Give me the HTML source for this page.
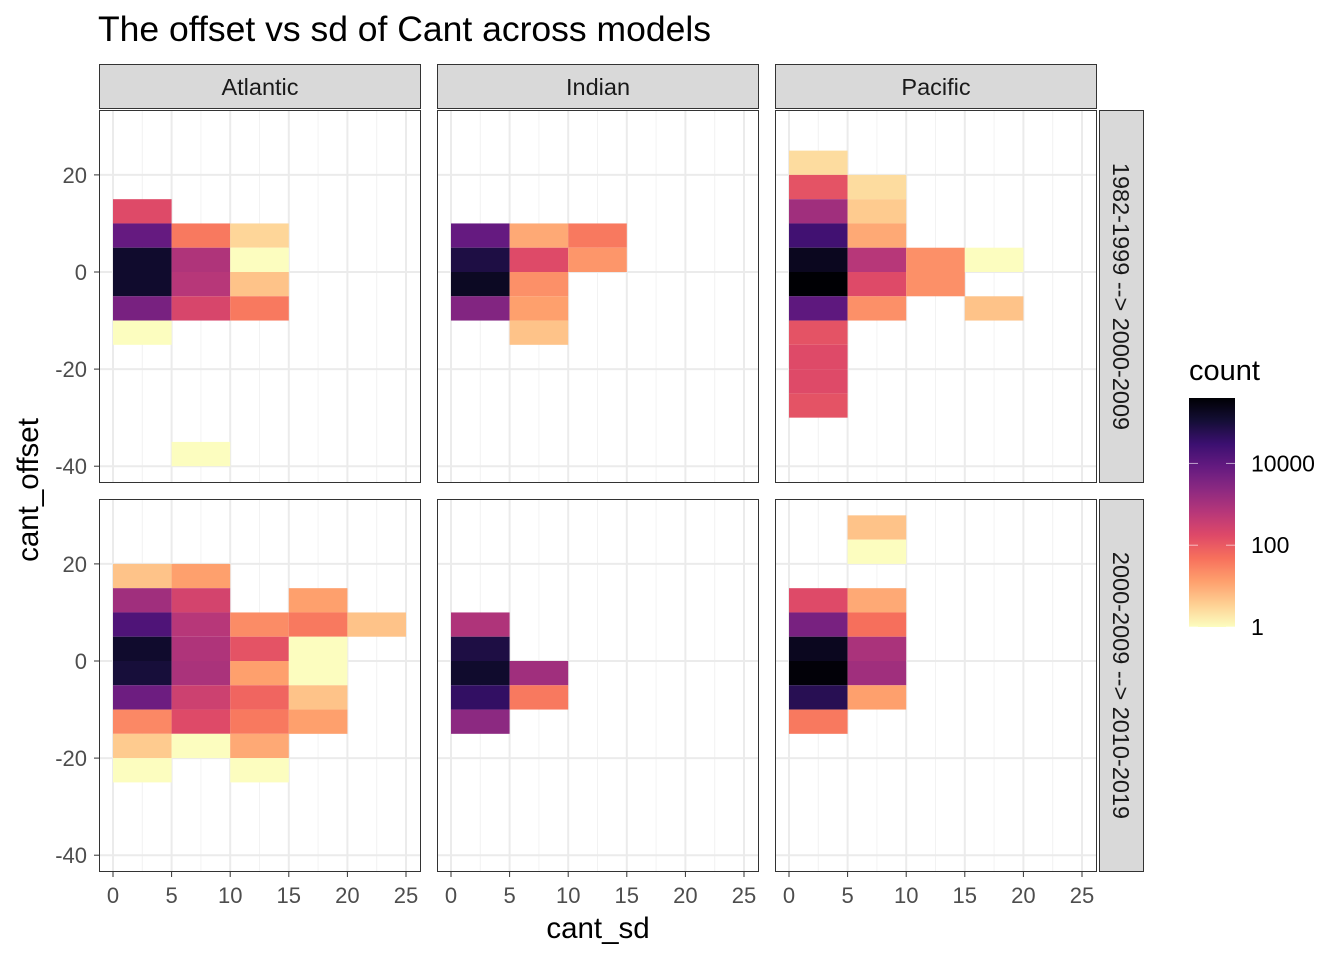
<!DOCTYPE html>
<html><head><meta charset="utf-8"><style>
body{margin:0;background:#fff}
svg text{font-family:"Liberation Sans",sans-serif}
</style></head><body>
<svg id="chart" width="1344" height="960" xmlns="http://www.w3.org/2000/svg">
<text x="98" y="41" font-size="35.5" fill="#000">The offset vs sd of Cant across models</text>
<text x="598" y="938" font-size="29.5" text-anchor="middle">cant_sd</text>
<text transform="translate(38,490) rotate(-90)" font-size="29.5" text-anchor="middle">cant_offset</text>
<g id="panels"></g>
<g id="legend">
<text x="1189" y="380" font-size="29">count</text>
</g>
</svg>
<script>
const columns = ["Atlantic","Indian","Pacific"];
const rows = ["1982-1999 --> 2000-2009","2000-2009 --> 2010-2019"];
const xTicks = [0,5,10,15,20,25];
const yTicks = [-40,-20,0,20];
const legendTicks = [1,100,10000];
// tiles: [x bin start, y bin start, count]
const atlantic1 = [[0,10,170],[0,5,8000],[0,0,140000],[0,-5,140000],[0,-10,4400],[0,-15,1],
 [5,5,37],[5,0,800],[5,-5,630],[5,-10,220],[5,-40,1],
 [10,5,3],[10,0,1],[10,-5,5],[10,-10,37]];
const indian1 = [[0,5,8000],[0,0,80000],[0,-5,178000],[0,-10,3200],
 [5,5,10],[5,0,170],[5,-5,20],[5,-10,13],[5,-15,5],[10,5,37],[10,0,17]];
const pacific1 = [[0,20,2.5],[0,15,126],[0,10,1260],[0,5,25000],[0,0,200000],[0,-5,400000],[0,-10,10000],
 [0,-15,126],[0,-20,170],[0,-25,170],[0,-30,126],
 [5,15,2.5],[5,10,4],[5,5,10],[5,0,630],[5,-5,170],[5,-10,20],
 [10,0,20],[10,-5,20],[15,0,1],[15,-10,5]];
const atlantic2 = [[0,15,5],[0,10,1260],[0,5,16000],[0,0,140000],[0,-5,100000],[0,-10,6300],[0,-15,25],[0,-20,4],[0,-25,1],
 [5,15,13],[5,10,250],[5,5,630],[5,0,800],[5,-5,930],[5,-10,316],[5,-15,170],[5,-20,1],
 [10,5,22],[10,0,126],[10,-5,13],[10,-10,70],[10,-15,37],[10,-20,10],[10,-25,1],
 [15,10,13],[15,5,37],[15,0,1],[15,-5,1],[15,-10,5],[15,-15,13],[20,5,5]];
const indian2 = [[0,5,800],[0,0,80000],[0,-5,140000],[0,-10,40000],[0,-15,2300],[5,-5,1260],[5,-10,37]];
const pacific2 = [[5,25,5],[5,20,1],[0,10,170],[0,5,4400],[0,0,200000],[0,-5,355000],[0,-10,57000],[0,-15,37],
 [5,10,10],[5,5,50],[5,0,930],[5,-5,1260],[5,-10,13]];
const panelData = [[atlantic1,indian1,pacific1],[atlantic2,indian2,pacific2]];
const LMAX = 5.6;

const NS="http://www.w3.org/2000/svg";
const stops=["#000004","#140E36","#3B0F70","#641A80","#8C2981","#B73779","#DE4968","#F7705C","#FE9F6D","#FECF92","#FCFDBF"];
function hex(c){return [1,3,5].map(i=>parseInt(c.substr(i,2),16));}
function magma(t){t=Math.max(0,Math.min(1,t));const p=t*10,i=Math.min(9,Math.floor(p)),f=p-i;
 const a=hex(stops[i]),b=hex(stops[i+1]);return "rgb("+a.map((v,k)=>Math.round(v+(b[k]-v)*f)).join(",")+")";}
function color(c){return magma(1-Math.log10(Math.max(1,c))/LMAX);}
function mk(tag,attrs,parent){const e=document.createElementNS(NS,tag);for(const k in attrs)e.setAttribute(k,attrs[k]);parent.appendChild(e);return e;}
const colX=[99,437,775], PW=322, rowY=[110,499], PH=373;
const xUnit=11.72, x0off=14, yUnit=4.855, y0off=162;
const G=document.getElementById("panels");
rows.forEach((rn,ri)=>{columns.forEach((cn,ci)=>{
 const L=colX[ci],T=rowY[ri];
 const sx=v=>L+x0off+v*xUnit, sy=v=>T+y0off-v*yUnit;
 const g=mk("g",{},G);
 
 
 mk("rect",{x:L,y:T,width:PW,height:PH,fill:"#fff"},g);
 for(let v=-2.5;v<=27.5;v+=5){const x=sx(v);if(x>L&&x<L+PW)mk("line",{x1:x,x2:x,y1:T,y2:T+PH,stroke:"#F2F2F2","stroke-width":1},g);}
 for(let v=-50;v<=40;v+=20){const y=sy(v+10);if(y>T&&y<T+PH)mk("line",{x1:L,x2:L+PW,y1:y,y2:y,stroke:"#F2F2F2","stroke-width":1},g);}
 xTicks.forEach(v=>mk("line",{x1:sx(v),x2:sx(v),y1:T,y2:T+PH,stroke:"#EBEBEB","stroke-width":2},g));
 yTicks.forEach(v=>mk("line",{x1:L,x2:L+PW,y1:sy(v),y2:sy(v),stroke:"#EBEBEB","stroke-width":2},g));
 panelData[ri][ci].forEach(d=>{
  const r=mk("rect",{x:sx(d[0]),y:sy(d[1]+5),width:5*xUnit,height:5*yUnit,fill:color(d[2])},g);
  
  
 });
 mk("rect",{x:L+0.5,y:T+0.5,width:PW-1,height:PH-1,fill:"none",stroke:"#333","stroke-width":1},g);
 if(ri==0){
  const s=mk("g",{},G);
  
  
  mk("rect",{x:L+0.5,y:64.5,width:PW-1,height:44,fill:"#D9D9D9",stroke:"#333","stroke-width":1},s);
  const t=mk("text",{x:L+PW/2,y:95,"font-size":23.5,"text-anchor":"middle",fill:"#1A1A1A"},s);t.textContent=cn;
 }
 if(ri==1){
  xTicks.forEach(v=>{mk("line",{x1:sx(v),x2:sx(v),y1:T+PH,y2:T+PH+5,stroke:"#333","stroke-width":1},G);
   const t=mk("text",{x:sx(v),y:T+PH+31,"font-size":22,"text-anchor":"middle",fill:"#4D4D4D"},G);
   
   
   t.textContent=v;});
 }
 if(ci==0){
  yTicks.forEach(v=>{mk("line",{x1:L-5,x2:L,y1:sy(v),y2:sy(v),stroke:"#333","stroke-width":1},G);
   const t=mk("text",{x:L-12,y:sy(v)+8,"font-size":22,"text-anchor":"end",fill:"#4D4D4D"},G);
   
   
   t.textContent=v;});
 }
 if(ci==2){
  const s=mk("g",{},G);
  
  
  mk("rect",{x:1099.5,y:T+0.5,width:44,height:PH-1,fill:"#D9D9D9",stroke:"#333","stroke-width":1},s);
  const t=mk("text",{transform:"translate(1113,"+(T+PH/2)+") rotate(90)","font-size":23.5,"text-anchor":"middle",fill:"#1A1A1A"},s);t.textContent=rn;
 }
});});
// legend
const LG=document.getElementById("legend");
const defs=mk("defs",{},LG);
const grad=mk("linearGradient",{id:"lg",x1:0,y1:1,x2:0,y2:0},defs);
for(let i=0;i<=20;i++){mk("stop",{offset:i/20,"stop-color":magma(1-i/20)},grad);}
const bx=1189,bw=46,bTop=398,bBot=627,bH=bBot-bTop;
const ly=v=>bBot-Math.log10(v)/LMAX*bH;
const bar=mk("rect",{x:bx,y:bTop,width:bw,height:bH,fill:"url(#lg)"},LG);


legendTicks.forEach(v=>{const y=ly(v);
 mk("line",{x1:bx,x2:bx+9,y1:y,y2:y,stroke:"#fff","stroke-opacity":0.6,"stroke-width":1},LG);
 mk("line",{x1:bx+bw-9,x2:bx+bw,y1:y,y2:y,stroke:"#fff","stroke-opacity":0.6,"stroke-width":1},LG);
 const t=mk("text",{x:1251,y:y+8,"font-size":23,fill:"#000"},LG);
 
 
 t.textContent=v;});
</script>
</body></html>
